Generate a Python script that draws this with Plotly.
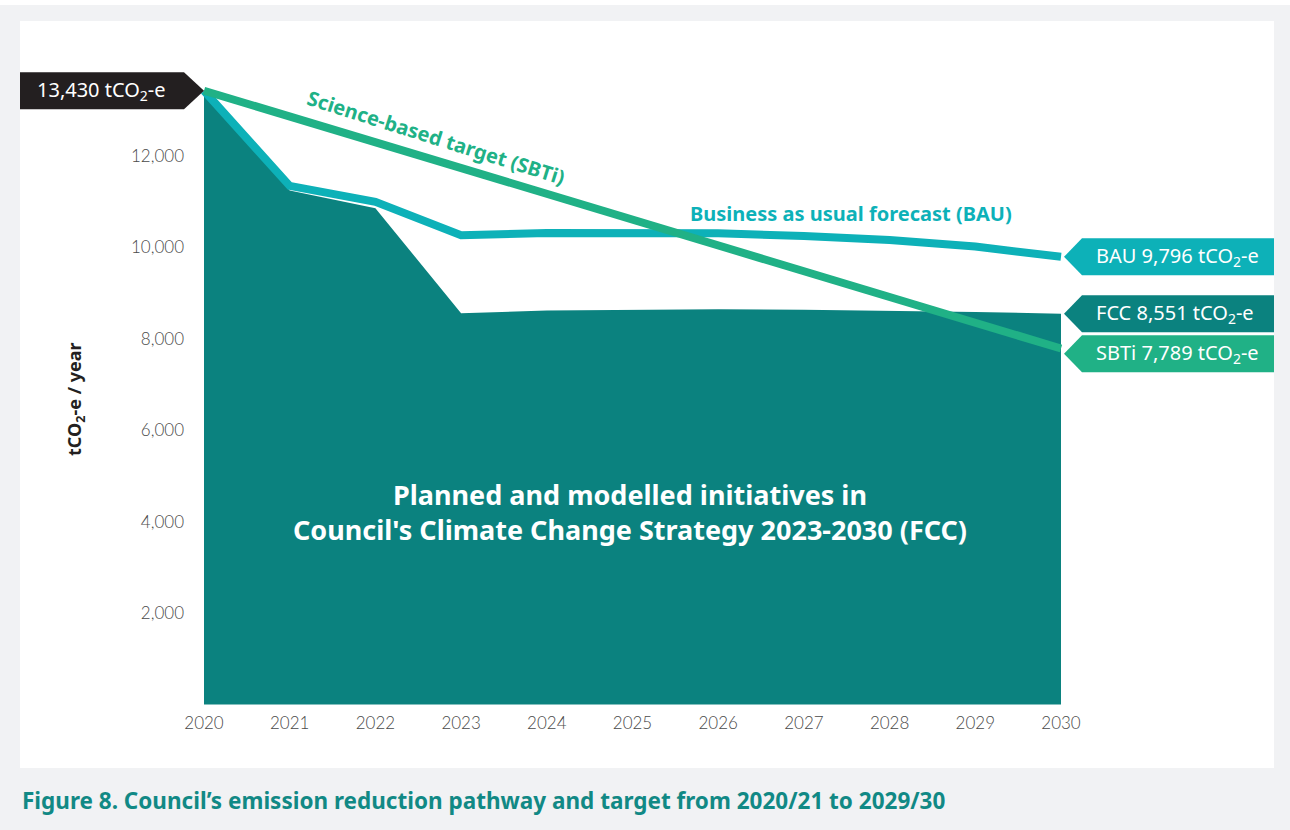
import plotly.graph_objects as go

# ---------------- data ----------------
years = [2020, 2021, 2022, 2023, 2024, 2025, 2026, 2027, 2028, 2029, 2030]
fcc = [13430, 11250, 10860, 8560, 8620, 8640, 8650, 8640, 8620, 8590, 8551]
bau = [13430, 11350, 11000, 10270, 10315, 10330, 10310, 10250, 10165, 10020, 9796]
sbti_years = [2020, 2030]
sbti = [13430, 7789]
y_ticks = [2000, 4000, 6000, 8000, 10000, 12000]
y_tick_text = ["2,000", "4,000", "6,000", "8,000", "10,000", "12,000"]
x_ticks = years
x_tick_text = [str(y) for y in years]

start_label = "13,430 tCO<sub>2</sub>-e"
end_labels = ["BAU 9,796 tCO<sub>2</sub>-e", "FCC 8,551 tCO<sub>2</sub>-e", "SBTi 7,789 tCO<sub>2</sub>-e"]
end_values = [bau[-1], fcc[-1], sbti[-1]]

# ---------------- styles ----------------
C_AREA = "#0b827f"
C_BAU = "#0db1b8"
C_SBTI = "#20b186"
C_DARK = "#231f20"
C_BG = "#f1f2f4"
C_CAPTION = "#118985"

W, H = 1290, 830
ML, MR, MT, MB = 20, 16, 21, 62
PW, PH = W - ML - MR, H - MT - MB
PX_PER_YEAR = 85.7
PX_PER_UNIT = 0.0457
X0 = 2020 - (204 - ML) / PX_PER_YEAR
X1 = 2030 + (W - MR - 1061) / PX_PER_YEAR
Y0 = -(H - MB - 704.5) / PX_PER_UNIT
Y1 = (704.5 - MT) / PX_PER_UNIT


def dx(px):
    return px / PX_PER_YEAR


def dy(px):
    return px / PX_PER_UNIT


fig = go.Figure()

fig.add_trace(go.Scatter(x=years, y=fcc, mode="lines", line=dict(width=0, color=C_AREA),
                         fill="tozeroy", fillcolor=C_AREA, hoverinfo="skip", showlegend=False))
fig.add_trace(go.Scatter(x=years, y=bau, mode="lines", line=dict(width=8, color=C_BAU),
                         hoverinfo="skip", showlegend=False))
fig.add_trace(go.Scatter(x=sbti_years, y=sbti, mode="lines", line=dict(width=8, color=C_SBTI),
                         hoverinfo="skip", showlegend=False))

shapes = []
# white strip at very top
shapes.append(dict(type="rect", xref="paper", yref="paper", x0=-ML / PW, x1=1 + MR / PW,
                   y0=1 + (MT - 5) / PH, y1=1 + MT / PH, fillcolor="white", line=dict(width=0),
                   layer="below"))

# start label box (pointing right to 2020 value)
half = dy(18.5)
sx = years[0]
sv = fcc[0]
left = X0
shapes.append(dict(type="path", xref="x", yref="y",
                   path=f"M {left} {sv + half} L {sx - dx(20)} {sv + half} L {sx} {sv} "
                        f"L {sx - dx(20)} {sv - half} L {left} {sv - half} Z",
                   fillcolor=C_DARK, line=dict(width=0), layer="above"))

# end label boxes
box_colors = [C_BAU, C_AREA, C_SBTI]
centers = []
prev_bottom = None
for v in end_values:
    c = v
    if prev_bottom is not None and c + half > prev_bottom - dy(3):
        c = prev_bottom - dy(3) - half
    centers.append(c)
    prev_bottom = c - half

ex = years[-1]
for c, col in zip(centers, box_colors):
    tip = ex + dx(3)
    shapes.append(dict(type="path", xref="x", yref="y",
                       path=f"M {tip} {c} L {tip + dx(18)} {c + half} L {X1} {c + half} "
                            f"L {X1} {c - half} L {tip + dx(18)} {c - half} Z",
                       fillcolor=col, line=dict(width=0), layer="above"))

annotations = []
FONT = "Noto Sans"
annotations.append(dict(x=left + dx(15), y=sv, xref="x", yref="y", text=start_label,
                        showarrow=False, xanchor="left", yanchor="middle",
                        font=dict(family=FONT, size=20, color="white")))
for c, t in zip(centers, end_labels):
    annotations.append(dict(x=ex + dx(33), y=c, xref="x", yref="y", text=t,
                            showarrow=False, xanchor="left", yanchor="middle",
                            font=dict(family=FONT, size=20, color="white")))

# axis title
annotations.append(dict(x=2020 - dx(129), y=dy(704.5 - 399), xref="x", yref="y",
                        text="<b>tCO<sub>2</sub>-e / year</b>", textangle=-90, showarrow=False,
                        xanchor="center", yanchor="middle",
                        font=dict(family=FONT, size=18, color=C_DARK)))

# series labels
annotations.append(dict(x=2020 + dx(232), y=dy(704.5 - 137), xref="x", yref="y",
                        text="<b>Science-based target (SBTi)</b>", textangle=17.5, showarrow=False,
                        xanchor="center", yanchor="middle",
                        font=dict(family=FONT, size=20, color=C_SBTI)))
annotations.append(dict(x=2020 + dx(647), y=dy(704.5 - 213), xref="x", yref="y",
                        text="<b>Business as usual forecast (BAU)</b>", showarrow=False,
                        xanchor="center", yanchor="middle",
                        font=dict(family=FONT, size=20, color=C_BAU)))
annotations.append(dict(x=2020 + dx(426), y=dy(704.5 - 512), xref="x", yref="y",
                        text="<b>Planned and modelled initiatives in<br>Council's Climate Change Strategy 2023-2030 (FCC)</b>",
                        showarrow=False, xanchor="center", yanchor="middle", align="center",
                        font=dict(family=FONT, size=27, color="white")))

# caption
annotations.append(dict(x=0, y=-(800 - (H - MB)) / PH, xref="paper", yref="paper",
                        text="<b>Figure 8. Council’s emission reduction pathway and target from 2020/21 to 2029/30</b>",
                        showarrow=False, xanchor="left", yanchor="middle",
                        font=dict(family=FONT, size=22.5, color=C_CAPTION)))

TICKFONT = dict(family="Lato", size=17, color="#4a4a4a", weight=300)

fig.update_layout(
    width=W, height=H,
    margin=dict(l=ML, r=MR, t=MT, b=MB, pad=0),
    paper_bgcolor=C_BG, plot_bgcolor="white",
    showlegend=False,
    shapes=shapes, annotations=annotations,
    xaxis=dict(range=[X0, X1], tickvals=x_ticks, ticktext=x_tick_text, showgrid=False,
               zeroline=False, showline=False, ticks="", anchor="free",
               position=(0 - Y0) / (Y1 - Y0), ticklabelstandoff=6, tickfont=TICKFONT),
    yaxis=dict(range=[Y0, Y1], tickvals=y_ticks, ticktext=y_tick_text, showgrid=False,
               zeroline=False, showline=False, ticks="", anchor="free",
               position=(2020 - X0) / (X1 - X0), ticklabelstandoff=20, tickfont=TICKFONT),
)

fig.write_html("out.html", config={"displayModeBar": False},
               post_script="document.body.style.margin='0';")
